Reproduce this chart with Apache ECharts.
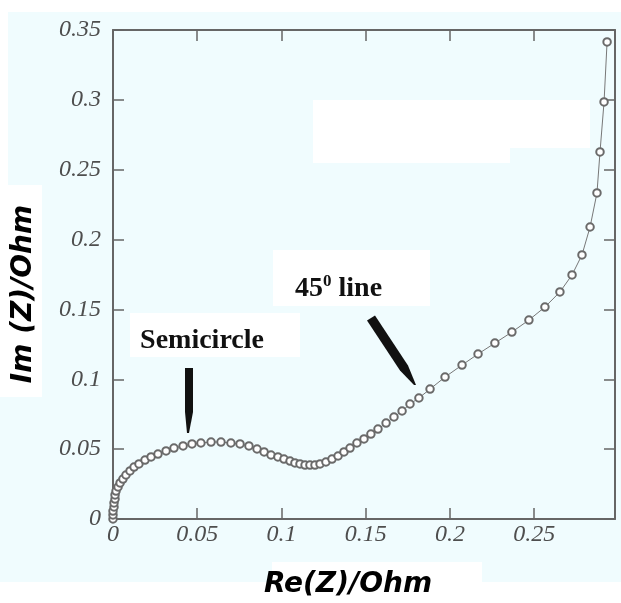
<!DOCTYPE html>
<html>
<head>
<meta charset="utf-8">
<script src="https://cdn.jsdelivr.net/npm/echarts@6/dist/echarts.min.js"></script>
<style>html,body{margin:0;padding:0;background:#fff}#c{width:621px;height:603px}</style>
</head>
<body>
<div id="c"></div>
<script>
// Real part of impedance (Ohm)
var reZ = [0, 0, 0, 0.0006, 0.0006, 0.0012, 0.0012, 0.0018, 0.0030, 0.0042,
  0.0059, 0.0077, 0.0101, 0.0125, 0.0154, 0.0190, 0.0226, 0.0267, 0.0315, 0.0362,
  0.0416, 0.0469, 0.0522, 0.0582, 0.0641, 0.0700, 0.0754, 0.0807, 0.0855, 0.0897,
  0.0938, 0.0979, 0.1015, 0.1051, 0.1080, 0.1110, 0.1140, 0.1169, 0.1199, 0.1229,
  0.1264, 0.1300, 0.1336, 0.1371, 0.1407, 0.1448, 0.1490, 0.1531, 0.1573, 0.1621,
  0.1668, 0.1716, 0.1763, 0.1816, 0.1882, 0.1971, 0.2072, 0.2167, 0.2267, 0.2368,
  0.2469, 0.2564, 0.2653, 0.2725, 0.2784, 0.2832, 0.2873, 0.2891, 0.2915, 0.2933];
// Imaginary part of impedance (Ohm)
var imZ = [0, 0.0029, 0.0057, 0.0086, 0.0115, 0.0143, 0.0172, 0.0200, 0.0229, 0.0258,
  0.0286, 0.0315, 0.0344, 0.0372, 0.0394, 0.0422, 0.0444, 0.0465, 0.0487, 0.0508,
  0.0523, 0.0537, 0.0544, 0.0551, 0.0551, 0.0544, 0.0537, 0.0523, 0.0501, 0.0480,
  0.0458, 0.0444, 0.0429, 0.0415, 0.0401, 0.0394, 0.0386, 0.0386, 0.0386, 0.0394,
  0.0408, 0.0429, 0.0451, 0.0480, 0.0508, 0.0544, 0.0573, 0.0608, 0.0644, 0.0687,
  0.0730, 0.0773, 0.0823, 0.0866, 0.0930, 0.1016, 0.1102, 0.1181, 0.1259, 0.1338,
  0.1424, 0.1517, 0.1625, 0.1747, 0.1890, 0.2090, 0.2334, 0.2627, 0.2985, 0.3415];
var xTitle = 'Re(Z)/Ohm';
var yTitle = 'Im (Z)/Ohm';
var noteSemi = 'Semicircle';

var points = reZ.map(function (x, i) { return [x, imZ[i]]; });

var bg = '#f0fcfe';
var axisCol = '#666';
var labelStyle = { fontFamily: 'Liberation Serif', fontStyle: 'italic', fontSize: 24, color: '#4e4e4e' };

var chart = echarts.init(document.getElementById('c'), null, { renderer: 'canvas' });
chart.setOption({
  animation: false,
  backgroundColor: '#fff',
  grid: { left: 113, right: 6, top: 30, bottom: 84, show: false },
  xAxis: [{
    type: 'value', min: 0, max: 0.298, interval: 0.05, position: 'bottom',
    axisLine: { show: true, onZero: false, lineStyle: { color: axisCol, width: 2 } },
    axisTick: { show: true, inside: true, length: 11, lineStyle: { color: axisCol, width: 1.5 } },
    axisLabel: Object.assign({ margin: 4, showMaxLabel: false }, labelStyle),
    splitLine: { show: false }
  }, {
    type: 'value', min: 0, max: 0.298, interval: 0.05, position: 'top',
    axisLine: { show: true, onZero: false, lineStyle: { color: axisCol, width: 2 } },
    axisTick: { show: true, inside: true, length: 11, lineStyle: { color: axisCol, width: 1.5 } },
    axisLabel: { show: false }, splitLine: { show: false }
  }],
  yAxis: [{
    type: 'value', min: 0, max: 0.35, interval: 0.05, position: 'left',
    axisLine: { show: true, onZero: false, lineStyle: { color: axisCol, width: 2 } },
    axisTick: { show: true, inside: true, length: 11, lineStyle: { color: axisCol, width: 1.5 } },
    axisLabel: Object.assign({ margin: 12 }, labelStyle),
    splitLine: { show: false }
  }, {
    type: 'value', min: 0, max: 0.35, interval: 0.05, position: 'right',
    axisLine: { show: true, onZero: false, lineStyle: { color: axisCol, width: 2 } },
    axisTick: { show: true, inside: true, length: 11, lineStyle: { color: axisCol, width: 1.5 } },
    axisLabel: { show: false }, splitLine: { show: false }
  }],
  series: [{
    type: 'line',
    data: points,
    xAxisIndex: 0, yAxisIndex: 0,
    symbol: 'emptyCircle',
    symbolSize: 7.5,
    lineStyle: { color: '#777', width: 1 },
    itemStyle: { color: '#6a6a6a', borderColor: '#6a6a6a', borderWidth: 1.2 },
    z: 5
  }],
  graphic: { elements: [
    { type: 'rect', z: -10, shape: { x: 8, y: 12, width: 613, height: 570 }, style: { fill: bg } },
    { type: 'rect', z: -10, shape: { x: 0, y: 397, width: 8, height: 185 }, style: { fill: bg } },
    { type: 'rect', z: -9, shape: { x: 0, y: 185, width: 42, height: 212 }, style: { fill: '#fff' } },
    { type: 'rect', z: -9, shape: { x: 272, y: 562, width: 210, height: 41 }, style: { fill: '#fff' } },
    { type: 'rect', z: -9, shape: { x: 313, y: 100, width: 277, height: 48 }, style: { fill: '#fff' } },
    { type: 'rect', z: -9, shape: { x: 313, y: 147, width: 197, height: 16 }, style: { fill: '#fff' } },
    { type: 'rect', z: -9, shape: { x: 130, y: 313, width: 170, height: 44 }, style: { fill: '#fff' } },
    { type: 'rect', z: -9, shape: { x: 273, y: 250, width: 157, height: 56 }, style: { fill: '#fff' } },
    { type: 'text', z: 50, x: 348, y: 585, style: { text: xTitle, fontFamily: 'DejaVu Sans', fontWeight: 'bold', fontStyle: 'italic', fontSize: 28, fill: '#000', align: 'center', verticalAlign: 'middle' } },
    { type: 'text', z: 50, x: 24, y: 294, rotation: Math.PI / 2, style: { text: yTitle, fontFamily: 'DejaVu Sans', fontWeight: 'bold', fontStyle: 'italic', fontSize: 28, fill: '#000', align: 'center', verticalAlign: 'middle' } },
    { type: 'text', z: 50, x: 202, y: 341, style: { text: noteSemi, fontFamily: 'Liberation Serif', fontWeight: 'bold', fontSize: 28, fill: '#111', align: 'center', verticalAlign: 'middle' } },
    { type: 'text', z: 50, x: 295, y: 288, style: {
        text: '{a|45}{s|0}{a| line}', verticalAlign: 'middle', align: 'left',
        rich: {
          a: { fontFamily: 'Liberation Serif', fontWeight: 'bold', fontSize: 28, fill: '#111', verticalAlign: 'bottom', lineHeight: 30 },
          s: { fontFamily: 'Liberation Serif', fontWeight: 'bold', fontSize: 17, fill: '#111', verticalAlign: 'top', lineHeight: 30 }
        } } },
    { type: 'polygon', z: 50, shape: { points: [[185, 368], [193, 368], [193, 412], [189, 433], [187, 433], [185, 412]] }, style: { fill: '#111' } },
    { type: 'polygon', z: 50, shape: { points: [[367, 320.5], [375, 315.5], [408, 365.5], [416, 385], [414, 385], [400, 370.5]] }, style: { fill: '#111' } }
  ] }
});
</script>
</body>
</html>
